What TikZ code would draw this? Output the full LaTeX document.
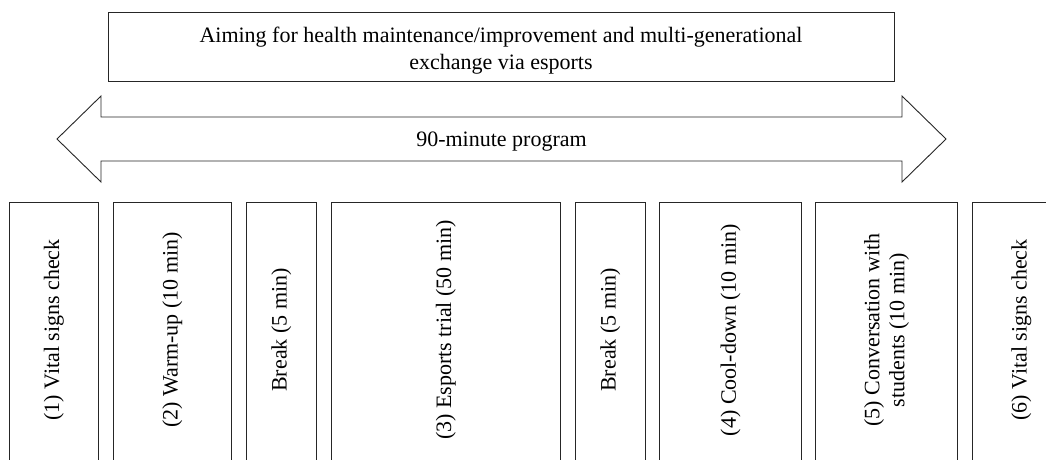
\documentclass[tikz,border=0pt]{standalone}
\usepackage{fontspec}
\setmainfont{Liberation Serif}
\usepackage{tikz}
\usetikzlibrary{positioning,calc}

\tikzset{
    stage/.style={draw=black!85, line width=0.9pt, fill=white, inner sep=0pt, anchor=north west},
    stagetext/.style={rotate=90, align=center, font=\fontsize{22}{25}\selectfont, inner sep=0pt},
}

\begin{document}
\begin{tikzpicture}[x=1pt, y=-1pt]
    \useasboundingbox (0,0) rectangle (1046,459);
    \clip (0,0) rectangle (1046,459);
    %%%%% THE GOAL
    \node[draw=black!85, line width=0.9pt, minimum width=786pt, minimum height=69pt] (GOAL) at (501,46.5) {};
    \node[align=center, font=\fontsize{22}{27}\selectfont] (AIM) at ([yshift=-4pt]GOAL.center)
        {Aiming for health maintenance/improvement and multi-generational\\exchange via esports};
    %%%%% THE 90-MINUTE ARROW
    \coordinate (LTIP) at (57,139);
    \coordinate (RTIP) at (946,139);
    \draw[black!85, line width=0.9pt, line join=miter]
        (LTIP) -- (101,96) -- (101,117) -- (902,117) -- (902,96) -- (RTIP)
        -- (902,182) -- (902,161) -- (101,161) -- (101,182) -- cycle;
    \node[font=\fontsize{22}{26}\selectfont] (PROG) at ($(LTIP)!0.5!(RTIP)+(0,3)$) {90-minute program};
    %%%%% THE STAGES
    \foreach \i/\l/\r/\txt in {1/9/98/{(1) Vital signs check},
        2/113/231/{(2) Warm-up (10 min)},
        3/246/316/{Break (5 min)},
        4/331/560/{(3) Esports trial (50 min)},
        5/575/645/{Break (5 min)},
        6/659/801/{(4) Cool-down (10 min)},
        7/815/957/{(5) Conversation with\\students (10 min)},
        8/972/1070/{(6) Vital signs check}}{
      \node[stage, minimum width={(\r-\l)*1pt}, minimum height=280pt] (S\i) at (\l,202) {};
      \node[stagetext] (T\i) at ([yshift=-128pt]S\i.north) {\txt};
    }
\end{tikzpicture}
\end{document}
